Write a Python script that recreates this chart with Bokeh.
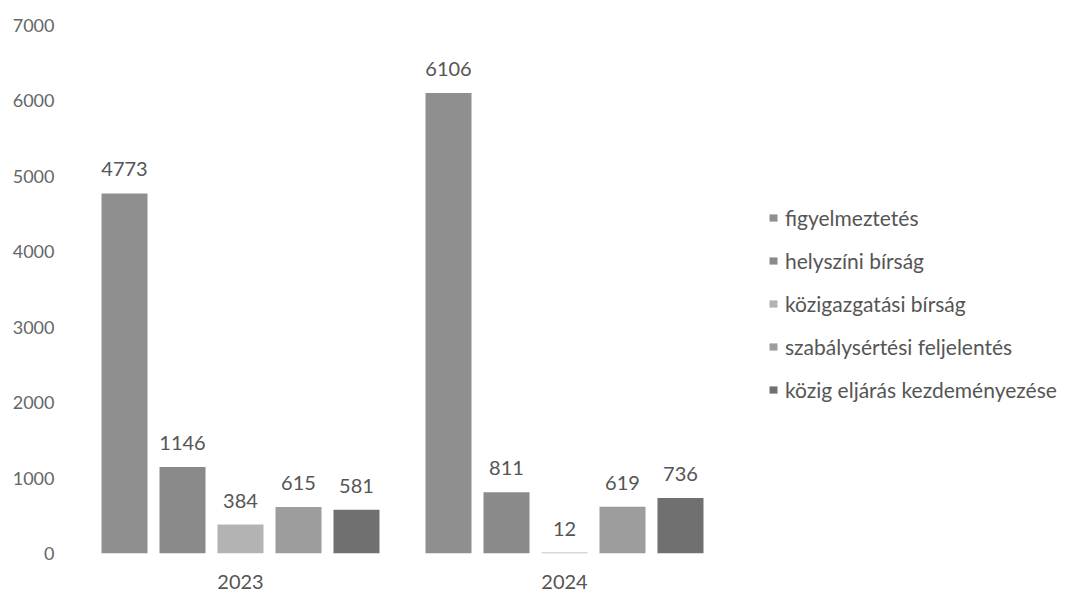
from bokeh.plotting import figure
from bokeh.models import ColumnDataSource, Legend, LegendItem, LabelSet
from bokeh.transform import dodge
from bokeh.core.properties import value
from bokeh.embed import file_html
from bokeh.resources import INLINE

years = ["2023", "2024"]
series = ["figyelmeztetés", "helyszíni bírság", "közigazgatási bírság",
          "szabálysértési feljelentés", "közig eljárás kezdeményezése"]
figyelmeztetes = [4773, 6106]
helyszini = [1146, 811]
kozigazgatasi = [384, 12]
szabalysertesi = [615, 619]
kozig_eljaras = [581, 736]
values = [figyelmeztetes, helyszini, kozigazgatasi, szabalysertesi, kozig_eljaras]
colors = ["#8f8f8f", "#8a8a8a", "#b3b3b3", "#9d9d9d", "#707070"]
y_ticks = [0, 1000, 2000, 3000, 4000, 5000, 6000, 7000]

FONT = "Lato"

p = figure(x_range=years, y_range=(0, 7000), frame_width=648, frame_height=528,
           output_backend="svg", toolbar_location=None,
           min_border_top=25, min_border_left=78, min_border_bottom=0,
           background_fill_color="white", border_fill_color="white")
p.outline_line_color = None
p.grid.grid_line_color = None

pitch = 0.179
offsets = [-2 * pitch, -pitch, 0, pitch, 2 * pitch]
items = []
for name, vals, col, off in zip(series, values, colors, offsets):
    src = ColumnDataSource(dict(year=years, v=vals, lbl=[str(x) for x in vals]))
    r = p.vbar(x=dodge("year", off, range=p.x_range), top="v", width=0.142,
               source=src, fill_color=col, line_color=None)
    lab = LabelSet(x=dodge("year", off, range=p.x_range), y="v", text="lbl", source=src,
                   text_align="center", text_baseline="middle", y_offset=24,
                   text_font_size=value("20px"), text_color=value("#555555"),
                   text_font=value(FONT))
    p.add_layout(lab)
    items.append(LegendItem(label=name, renderers=[r]))

legend = Legend(items=items, location=(42, 151), orientation="vertical",
                border_line_color=None, background_fill_alpha=0,
                glyph_width=10, glyph_height=9, label_standoff=7,
                label_text_font=FONT, label_text_font_size="21px",
                label_text_color="#555555", label_height=20, spacing=18,
                padding=0, margin=0)
p.add_layout(legend, "right")

p.yaxis.ticker = y_ticks
p.yaxis.axis_line_color = None
p.yaxis.major_tick_line_color = None
p.yaxis.minor_tick_line_color = None
p.yaxis.major_label_standoff = 18
p.yaxis.major_label_text_font = FONT
p.yaxis.major_label_text_font_size = "18px"
p.yaxis.major_label_text_color = "#666666"

p.xaxis.axis_line_color = None
p.xaxis.major_tick_line_color = None
p.xaxis.minor_tick_line_color = None
p.xaxis.major_label_standoff = 15
p.xaxis.major_label_text_font = FONT
p.xaxis.major_label_text_font_size = "20px"
p.xaxis.major_label_text_color = "#555555"

open("out.html", "w").write(file_html(p, INLINE))
